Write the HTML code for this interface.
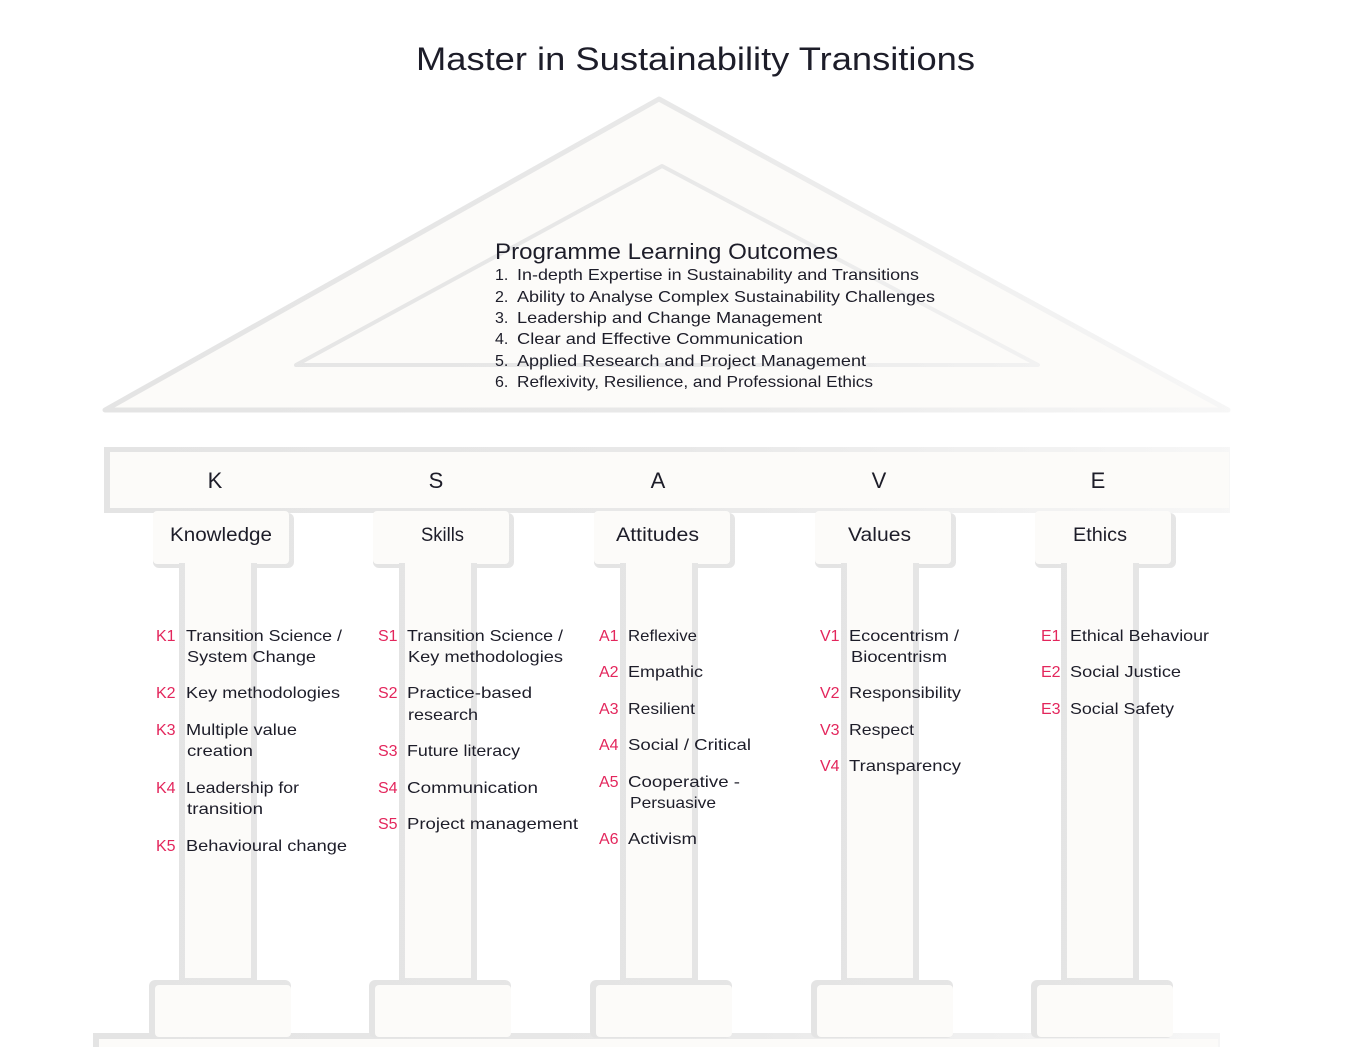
<!DOCTYPE html>
<html>
<head>
<meta charset="utf-8">
<style>
  html,body{margin:0;padding:0;background:#ffffff;}
  svg{display:block;}
  text{font-family:"Liberation Sans",Arial,sans-serif;fill:#1d1d29;}
  .c{fill:#e3265c;font-size:16px;}
  .t{font-size:16px;}
</style>
</head>
<body>
<svg width="1354" height="1047" viewBox="0 0 1354 1047" xmlns="http://www.w3.org/2000/svg">
  <defs>
    <linearGradient id="g" gradientUnits="userSpaceOnUse" x1="100" y1="0" x2="1240" y2="0">
      <stop offset="0" stop-color="#e4e4e4"/>
      <stop offset="0.5" stop-color="#e8e8e8"/>
      <stop offset="1" stop-color="#f7f7f7"/>
    </linearGradient>
  </defs>
  <rect width="1354" height="1047" fill="#ffffff"/>

  <!-- Title -->
  <text x="416" y="70" font-size="32" textLength="559" lengthAdjust="spacingAndGlyphs">Master in Sustainability Transitions</text>

  <!-- Roof -->
  <path d="M105,410 L659,99 L1228,410 Z" fill="#fcfbf9" stroke="url(#g)" stroke-width="5" stroke-linejoin="round"/>
  <path d="M296,365 L662,166 L1038,365 Z" fill="#fcfbf9" stroke="url(#g)" stroke-width="4" stroke-linejoin="round"/>

  <!-- PLO -->
  <text x="495" y="259" font-size="22" textLength="343" lengthAdjust="spacingAndGlyphs">Programme Learning Outcomes</text>
  <text class="t" x="495" y="280">1.</text>
  <text class="t" x="517" y="280" textLength="402" lengthAdjust="spacingAndGlyphs">In-depth Expertise in Sustainability and Transitions</text>
  <text class="t" x="495" y="302">2.</text>
  <text class="t" x="517" y="302" textLength="418" lengthAdjust="spacingAndGlyphs">Ability to Analyse Complex Sustainability Challenges</text>
  <text class="t" x="495" y="323">3.</text>
  <text class="t" x="517" y="323" textLength="305" lengthAdjust="spacingAndGlyphs">Leadership and Change Management</text>
  <text class="t" x="495" y="344">4.</text>
  <text class="t" x="517" y="344" textLength="286" lengthAdjust="spacingAndGlyphs">Clear and Effective Communication</text>
  <text class="t" x="495" y="366">5.</text>
  <text class="t" x="517" y="366" textLength="349" lengthAdjust="spacingAndGlyphs">Applied Research and Project Management</text>
  <text class="t" x="495" y="387">6.</text>
  <text class="t" x="517" y="387" textLength="356" lengthAdjust="spacingAndGlyphs">Reflexivity, Resilience, and Professional Ethics</text>

  <!-- Beam -->
  <rect x="104" y="447" width="1126" height="66" fill="url(#g)"/>
  <rect x="110" y="452" width="1119" height="56" fill="#fcfbf9"/>
  <g font-size="22" text-anchor="middle">
    <text x="215" y="488">K</text>
    <text x="436" y="488">S</text>
    <text x="658" y="488">A</text>
    <text x="879" y="488">V</text>
    <text x="1098" y="488">E</text>
  </g>

  <!-- Stylobate -->
  <rect x="93" y="1033" width="1127" height="20" fill="url(#g)"/>
  <rect x="99" y="1039" width="1119" height="15" fill="#fcfbf9"/>

  <!-- Columns -->
  <g id="col">
    <rect x="153" y="513" width="141" height="55" rx="6" fill="url(#g)"/>
    <rect x="153" y="511" width="136" height="53" rx="4" fill="#fcfbf9"/>
    <rect x="179" y="563" width="78" height="420" fill="url(#g)"/>
    <rect x="185" y="563" width="66" height="415" fill="#fcfbf9"/>
    <rect x="149" y="980" width="142" height="58" rx="6" fill="url(#g)"/>
    <rect x="155" y="985" width="136" height="52" rx="4" fill="#fcfbf9"/>
  </g>
  <use href="#col" x="220" y="0"/>
  <use href="#col" x="441" y="0"/>
  <use href="#col" x="662" y="0"/>
  <use href="#col" x="882" y="0"/>

  <!-- Capital labels -->
  <g font-size="19" text-anchor="middle">
    <text x="221" y="541" textLength="102" lengthAdjust="spacingAndGlyphs">Knowledge</text>
    <text x="442.5" y="541" textLength="43" lengthAdjust="spacingAndGlyphs">Skills</text>
    <text x="657.5" y="541" textLength="83" lengthAdjust="spacingAndGlyphs">Attitudes</text>
    <text x="879.5" y="541" textLength="63" lengthAdjust="spacingAndGlyphs">Values</text>
    <text x="1100" y="541" textLength="54" lengthAdjust="spacingAndGlyphs">Ethics</text>
  </g>

  <!-- K column -->
  <text class="c" x="156" y="641">K1</text>
  <text class="t" x="186" y="641" textLength="156" lengthAdjust="spacingAndGlyphs">Transition Science /</text>
  <text class="t" x="187" y="662" textLength="129" lengthAdjust="spacingAndGlyphs">System Change</text>
  <text class="c" x="156" y="698">K2</text>
  <text class="t" x="186" y="698" textLength="154" lengthAdjust="spacingAndGlyphs">Key methodologies</text>
  <text class="c" x="156" y="735">K3</text>
  <text class="t" x="186" y="735" textLength="111" lengthAdjust="spacingAndGlyphs">Multiple value</text>
  <text class="t" x="187" y="756" textLength="66" lengthAdjust="spacingAndGlyphs">creation</text>
  <text class="c" x="156" y="793">K4</text>
  <text class="t" x="186" y="793" textLength="113" lengthAdjust="spacingAndGlyphs">Leadership for</text>
  <text class="t" x="187" y="814" textLength="76" lengthAdjust="spacingAndGlyphs">transition</text>
  <text class="c" x="156" y="851">K5</text>
  <text class="t" x="186" y="851" textLength="161" lengthAdjust="spacingAndGlyphs">Behavioural change</text>

  <!-- S column -->
  <text class="c" x="378" y="641">S1</text>
  <text class="t" x="407" y="641" textLength="156" lengthAdjust="spacingAndGlyphs">Transition Science /</text>
  <text class="t" x="408" y="662" textLength="155" lengthAdjust="spacingAndGlyphs">Key methodologies</text>
  <text class="c" x="378" y="698">S2</text>
  <text class="t" x="407" y="698" textLength="125" lengthAdjust="spacingAndGlyphs">Practice-based</text>
  <text class="t" x="408" y="720" textLength="70" lengthAdjust="spacingAndGlyphs">research</text>
  <text class="c" x="378" y="756">S3</text>
  <text class="t" x="407" y="756" textLength="113" lengthAdjust="spacingAndGlyphs">Future literacy</text>
  <text class="c" x="378" y="793">S4</text>
  <text class="t" x="407" y="793" textLength="131" lengthAdjust="spacingAndGlyphs">Communication</text>
  <text class="c" x="378" y="829">S5</text>
  <text class="t" x="407" y="829" textLength="171" lengthAdjust="spacingAndGlyphs">Project management</text>

  <!-- A column -->
  <text class="c" x="599" y="641">A1</text>
  <text class="t" x="628" y="641" textLength="69" lengthAdjust="spacingAndGlyphs">Reflexive</text>
  <text class="c" x="599" y="677">A2</text>
  <text class="t" x="628" y="677" textLength="75" lengthAdjust="spacingAndGlyphs">Empathic</text>
  <text class="c" x="599" y="714">A3</text>
  <text class="t" x="628" y="714" textLength="67" lengthAdjust="spacingAndGlyphs">Resilient</text>
  <text class="c" x="599" y="750">A4</text>
  <text class="t" x="628" y="750" textLength="123" lengthAdjust="spacingAndGlyphs">Social / Critical</text>
  <text class="c" x="599" y="787">A5</text>
  <text class="t" x="628" y="787" textLength="112" lengthAdjust="spacingAndGlyphs">Cooperative -</text>
  <text class="t" x="630" y="808" textLength="86" lengthAdjust="spacingAndGlyphs">Persuasive</text>
  <text class="c" x="599" y="844">A6</text>
  <text class="t" x="628" y="844" textLength="69" lengthAdjust="spacingAndGlyphs">Activism</text>

  <!-- V column -->
  <text class="c" x="820" y="641">V1</text>
  <text class="t" x="849" y="641" textLength="110" lengthAdjust="spacingAndGlyphs">Ecocentrism /</text>
  <text class="t" x="851" y="662" textLength="96" lengthAdjust="spacingAndGlyphs">Biocentrism</text>
  <text class="c" x="820" y="698">V2</text>
  <text class="t" x="849" y="698" textLength="112" lengthAdjust="spacingAndGlyphs">Responsibility</text>
  <text class="c" x="820" y="735">V3</text>
  <text class="t" x="849" y="735" textLength="65" lengthAdjust="spacingAndGlyphs">Respect</text>
  <text class="c" x="820" y="771">V4</text>
  <text class="t" x="849" y="771" textLength="112" lengthAdjust="spacingAndGlyphs">Transparency</text>

  <!-- E column -->
  <text class="c" x="1041" y="641">E1</text>
  <text class="t" x="1070" y="641" textLength="139" lengthAdjust="spacingAndGlyphs">Ethical Behaviour</text>
  <text class="c" x="1041" y="677">E2</text>
  <text class="t" x="1070" y="677" textLength="111" lengthAdjust="spacingAndGlyphs">Social Justice</text>
  <text class="c" x="1041" y="714">E3</text>
  <text class="t" x="1070" y="714" textLength="104" lengthAdjust="spacingAndGlyphs">Social Safety</text>
</svg>
</body>
</html>
